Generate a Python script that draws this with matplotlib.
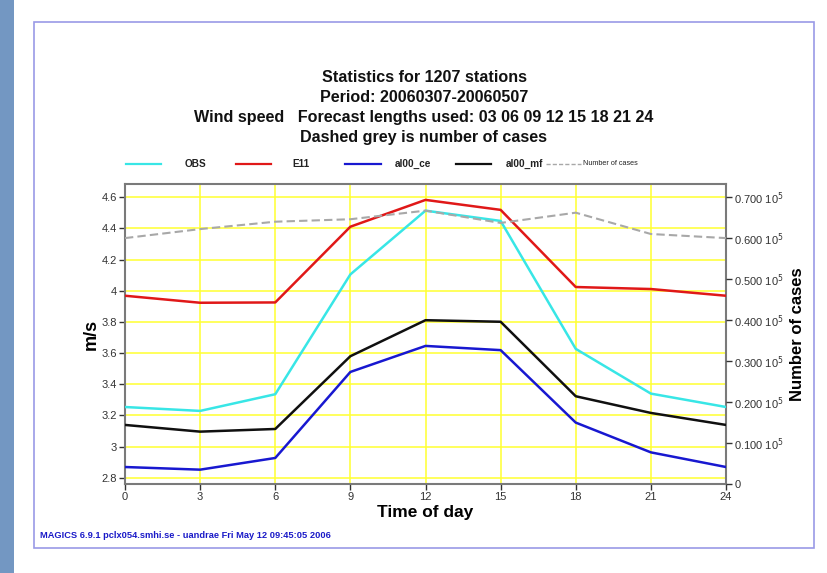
import numpy as np
import matplotlib.pyplot as plt
from matplotlib.lines import Line2D
from matplotlib.patches import Rectangle

plt.rcParams['font.family'] = ['Liberation Sans', 'DejaVu Sans']

# forecast hour (time of day)
hours = [0, 3, 6, 9, 12, 15, 18, 21, 24]

# mean wind speed, m/s
obs = [3.254, 3.229, 3.336, 4.105, 4.514, 4.448, 3.627, 3.340, 3.254]
e11 = [3.968, 3.923, 3.925, 4.411, 4.583, 4.519, 4.024, 4.011, 3.968]
al00_ce = [2.869, 2.852, 2.927, 3.479, 3.646, 3.619, 3.154, 2.963, 2.869]
al00_mf = [3.139, 3.096, 3.113, 3.580, 3.811, 3.801, 3.323, 3.216, 3.139]

# number of cases (right axis)
n_cases = [60000, 62200, 64000, 64600, 66700, 63700, 66200, 61000, 60000]

series = [
    ("OBS", obs, "#38e6e6"),
    ("E11", e11, "#e01818"),
    ("al00_ce", al00_ce, "#1818d0"),
    ("al00_mf", al00_mf, "#101010"),
]

left_ticks = np.round(np.arange(2.8, 4.61, 0.2), 1)
left_labels = ["2.8", "3", "3.2", "3.4", "3.6", "3.8", "4", "4.2", "4.4", "4.6"]
right_ticks = np.arange(0, 70001, 10000)
right_labels = ["0"] + [r"0.%d00 10$^5$" % k for k in range(1, 8)]

W, H = 827, 573
fig = plt.figure(figsize=(W / 100, H / 100), dpi=100)

# page decoration: side band and outer frame
fig.add_artist(Rectangle((0, 0), 14 / W, 1, transform=fig.transFigure,
                         facecolor="#7397c2", edgecolor="none"))
fig.add_artist(Rectangle((34 / W, 1 - 548 / H), (814 - 34) / W, (548 - 22) / H,
                         transform=fig.transFigure, facecolor="none",
                         edgecolor="#9a9ae6", linewidth=1.2))

ax = fig.add_axes([125 / W, 1 - 484 / H, 601 / W, 300 / H])
for name, vals, col in series:
    ax.plot(hours, vals, color=col, linewidth=1.8, zorder=3)

ax.set_xlim(0, 24)
ax.set_ylim(2.76, 4.685)
ax.set_xticks(hours)
ax.set_xticklabels([str(h) for h in hours])
ax.set_yticks(left_ticks)
ax.set_yticklabels(left_labels)
ax.grid(True, color="#ffff30", linewidth=1.1, zorder=0)
ax.tick_params(labelsize=8, colors="#333333", length=4, width=1, pad=2)
for s in ax.spines.values():
    s.set_color("#7a7a7a")
    s.set_linewidth(1.5)
ax.set_xlabel("Time of day", fontsize=12.5, fontweight="bold", labelpad=2)
ax.set_ylabel("m/s", fontsize=13, fontweight="bold", labelpad=1)

ax2 = ax.twinx()
ax2.plot(hours, n_cases, color="#a8a8a8", linestyle=(0, (4, 2)), linewidth=1.5, zorder=2)
ax2.set_ylim(0, 73200)
ax2.set_yticks(right_ticks)
ax2.set_yticklabels(right_labels)
ax2.tick_params(labelsize=8, colors="#333333", length=4, width=1, pad=2)
for s in ax2.spines.values():
    s.set_visible(False)
ax2.set_ylabel("Number of cases", fontsize=12, fontweight="bold", labelpad=4)

# titles
titles = ["Statistics for 1207 stations",
          "Period: 20060307-20060507",
          "Wind speed   Forecast lengths used: 03 06 09 12 15 18 21 24",
          "Dashed grey is number of cases"]
for i, t in enumerate(titles):
    fig.text(424 / W, 1 - (78 + 19.8 * i) / H, t, ha="center", va="center",
             fontsize=11.6, fontweight="bold", color="#111111")

# legend row
leg_y = 1 - 164 / H
leg_items = [(126, 161, 185, "#38e6e6", "-", "OBS"),
             (236, 271, 292, "#e01818", "-", "E11"),
             (345, 381, 395, "#1818d0", "-", "al00_ce"),
             (456, 491, 506, "#101010", "-", "al00_mf")]
for x0, x1, xt, col, ls, lab in leg_items:
    fig.add_artist(Line2D([x0 / W, x1 / W], [leg_y, leg_y], color=col,
                          linewidth=1.6, transform=fig.transFigure))
    fig.text(xt / W, leg_y, lab, ha="left", va="center", fontsize=7.2,
             fontweight="bold", color="#222222")
fig.add_artist(Line2D([546 / W, 581 / W], [leg_y, leg_y], color="#a8a8a8",
                      linewidth=1.0, linestyle=(0, (3, 1.5)), transform=fig.transFigure))
fig.text(583 / W, leg_y, "Number of cases", ha="left", va="center",
         fontsize=5.2, color="#222222")

fig.text(40 / W, 1 - 536 / H,
         "MAGICS 6.9.1 pclx054.smhi.se - uandrae Fri May 12 09:45:05 2006",
         ha="left", va="center", fontsize=6.7, fontweight="bold", color="#1a1ac8")

fig.savefig("out.png", dpi=100)
